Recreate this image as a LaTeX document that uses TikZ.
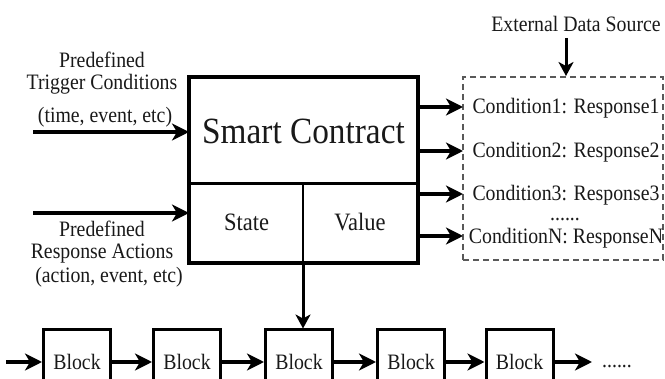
\documentclass[tikz,border=0pt]{standalone}
\usepackage{fontspec}
\setmainfont{Liberation Serif}[FakeStretch=0.9]
\usetikzlibrary{arrows.meta}
\newcommand\fsN{\fontsize{22pt}{24pt}\selectfont}
\newcommand\fsM{\fontsize{25pt}{27pt}\selectfont}
\newcommand\fsL{\fontsize{37pt}{40pt}\selectfont}
\tikzset{
  thickarrow/.style={line width=4pt, -{Stealth[length=17pt,width=17pt,inset=5pt]}},
  thinarrow/.style={line width=3pt, -{Stealth[length=14pt,width=15pt,inset=4pt]}},
  cell/.style={draw, line width=2pt, inner sep=0pt, text=black!90},
  blockbox/.style={draw, line width=3pt, inner sep=0pt, minimum width=67pt, minimum height=64pt, font=\fsN, text=black!90},
  lbl/.style={inner sep=0pt, font=\fsN, text=black!90},
  cond/.style={inner sep=0pt, font=\fsN, text=black!90},
}
\begin{document}
\begin{tikzpicture}[x=1pt,y=-1pt]
\useasboundingbox (0,0) rectangle (665,379);
\clip (0,0) rectangle (665,379);
\fill[white] (0,0) rectangle (665,379);

% smart contract
\node[cell, minimum width=227pt, minimum height=106pt, font=\fsL] (sct) at (303.5,131) {Smart Contract};
\node[cell, minimum width=113pt, minimum height=79pt, font=\fsM] (state) at (246.5,222.5) {State};
\node[cell, minimum width=114pt, minimum height=79pt, font=\fsM] (value) at (360,222.5) {Value};
\draw[line width=3.5pt] (sct.north west) rectangle (value.south east);
\coordinate (scout) at (303,262);

% left labels
\node[lbl, anchor=base] (p1) at (102,68) {Predefined};
\node[lbl, anchor=base] (p2) at (102,90) {Trigger Conditions};
\node[lbl, anchor=base] (p3) at (105,123) {(time, event, etc)};
\node[lbl, anchor=base] (q1) at (102,237) {Predefined};
\node[lbl, anchor=base] (q2) at (102,259) {Response Actions};
\node[lbl, anchor=base] (q3) at (109,283) {(action, event, etc)};

\coordinate (in1) at (33,132);
\coordinate (in2) at (33,213);
\draw[thickarrow] (in1) -- (in1 -| sct.west);
\draw[thickarrow] (in2) -- (in2 -| sct.west);

% external data source and condition box
\node[lbl, anchor=base] (ext) at (576,32) {External Data Source};
\node[draw=black!65, dash pattern=on 6pt off 4pt, line width=1.6pt, minimum width=200pt, minimum height=183pt, inner sep=0pt] (cbox) at (563,168.5) {};
\draw[thinarrow] (566,38) -- (566,76);

\node[cond] (c1) at (566,108) {Condition1: Response1};
\node[cond] (c2) at (566,152) {Condition2: Response2};
\node[cond] (c3) at (566,195) {Condition3: Response3};
\node[cond, anchor=base] (cd) at (565,221) {......};
\node[cond] (cn) at (566,238) {ConditionN: ResponseN};

\foreach \yy in {107,151,194,236}{
  \draw[thickarrow] (417,\yy) -- (463,\yy);
}

% blocks
\node[blockbox] (b1) at (77,362) {Block};
\node[blockbox] (b2) at (187,362) {Block};
\node[blockbox] (b3) at (299,362) {Block};
\node[blockbox] (b4) at (411,362) {Block};
\node[blockbox] (b5) at (519.5,362) {Block};
\coordinate (bin) at (6,362);
\coordinate (bout) at (592,362);
\node[lbl, anchor=base] (dots) at (617,368) {......};

\draw[thinarrow] (scout) -- (scout |- b3.north);
\draw[thickarrow] (bin) -- (b1.west);
\draw[thickarrow] (b1.east) -- (b2.west);
\draw[thickarrow] (b2.east) -- (b3.west);
\draw[thickarrow] (b3.east) -- (b4.west);
\draw[thickarrow] (b4.east) -- (b5.west);
\draw[thickarrow] (b5.east) -- (bout);
\end{tikzpicture}
\end{document}
